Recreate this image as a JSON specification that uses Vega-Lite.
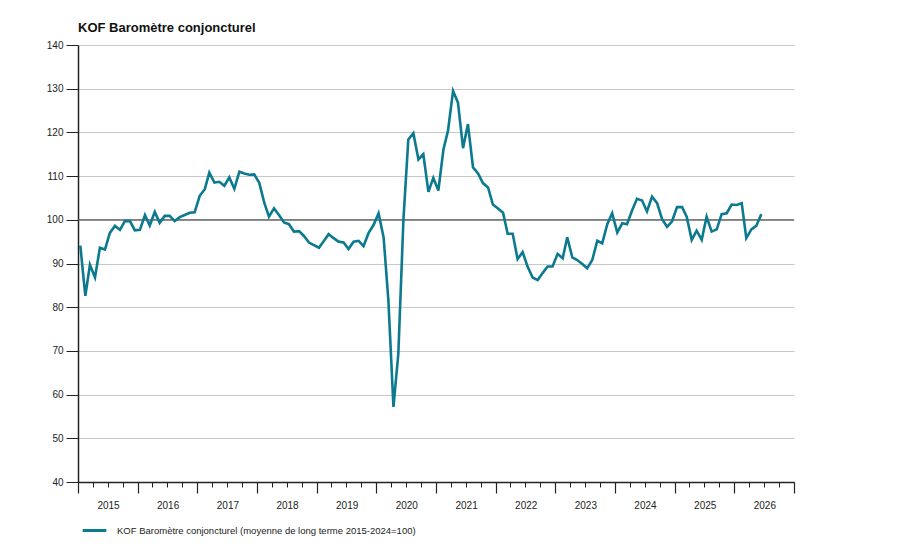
{
  "$schema": "https://vega.github.io/schema/vega-lite/v6.json",
  "width": 716,
  "height": 437,
  "autosize": "none",
  "padding": {"left": 78, "top": 45, "right": 106, "bottom": 65},
  "background": "white",
  "title": {"text": "KOF Baromètre conjoncturel", "anchor": "start", "frame": "group", "offset": 5, "font": "Liberation Sans", "fontSize": 13, "fontWeight": "bold", "color": "#111111"},
  "config": {"view": {"stroke": null}, "font": "Liberation Sans"},
  "data": {"values": [
    {"date": "2015-01-15", "value": 94.1}, {"date": "2015-02-15", "value": 82.6}, {"date": "2015-03-15", "value": 89.7}, {"date": "2015-04-15", "value": 86.8},
    {"date": "2015-05-15", "value": 93.6}, {"date": "2015-06-15", "value": 93.2}, {"date": "2015-07-15", "value": 97.0}, {"date": "2015-08-15", "value": 98.6},
    {"date": "2015-09-15", "value": 97.7}, {"date": "2015-10-15", "value": 99.7}, {"date": "2015-11-15", "value": 99.7}, {"date": "2015-12-15", "value": 97.6},
    {"date": "2016-01-15", "value": 97.7}, {"date": "2016-02-15", "value": 101.1}, {"date": "2016-03-15", "value": 98.7}, {"date": "2016-04-15", "value": 101.8},
    {"date": "2016-05-15", "value": 99.3}, {"date": "2016-06-15", "value": 100.9}, {"date": "2016-07-15", "value": 100.9}, {"date": "2016-08-15", "value": 99.7},
    {"date": "2016-09-15", "value": 100.6}, {"date": "2016-10-15", "value": 101.1}, {"date": "2016-11-15", "value": 101.6}, {"date": "2016-12-15", "value": 101.7},
    {"date": "2017-01-15", "value": 105.5}, {"date": "2017-02-15", "value": 107.0}, {"date": "2017-03-15", "value": 110.8}, {"date": "2017-04-15", "value": 108.5},
    {"date": "2017-05-15", "value": 108.7}, {"date": "2017-06-15", "value": 107.8}, {"date": "2017-07-15", "value": 109.7}, {"date": "2017-08-15", "value": 107.1},
    {"date": "2017-09-15", "value": 111.0}, {"date": "2017-10-15", "value": 110.6}, {"date": "2017-11-15", "value": 110.3}, {"date": "2017-12-15", "value": 110.4},
    {"date": "2018-01-15", "value": 108.4}, {"date": "2018-02-15", "value": 103.8}, {"date": "2018-03-15", "value": 100.7}, {"date": "2018-04-15", "value": 102.6},
    {"date": "2018-05-15", "value": 101.1}, {"date": "2018-06-15", "value": 99.4}, {"date": "2018-07-15", "value": 99.0}, {"date": "2018-08-15", "value": 97.3},
    {"date": "2018-09-15", "value": 97.4}, {"date": "2018-10-15", "value": 96.3}, {"date": "2018-11-15", "value": 94.8}, {"date": "2018-12-15", "value": 94.2},
    {"date": "2019-01-15", "value": 93.6}, {"date": "2019-02-15", "value": 95.2}, {"date": "2019-03-15", "value": 96.7}, {"date": "2019-04-15", "value": 95.8},
    {"date": "2019-05-15", "value": 95.0}, {"date": "2019-06-15", "value": 94.8}, {"date": "2019-07-15", "value": 93.3}, {"date": "2019-08-15", "value": 95.0},
    {"date": "2019-09-15", "value": 95.2}, {"date": "2019-10-15", "value": 94.0}, {"date": "2019-11-15", "value": 97.0}, {"date": "2019-12-15", "value": 98.8},
    {"date": "2020-01-15", "value": 101.5}, {"date": "2020-02-15", "value": 95.9}, {"date": "2020-03-15", "value": 81.6}, {"date": "2020-04-15", "value": 57.2},
    {"date": "2020-05-15", "value": 69.4}, {"date": "2020-06-15", "value": 100.0}, {"date": "2020-07-15", "value": 118.4}, {"date": "2020-08-15", "value": 119.8},
    {"date": "2020-09-15", "value": 113.8}, {"date": "2020-10-15", "value": 115.0}, {"date": "2020-11-15", "value": 106.4}, {"date": "2020-12-15", "value": 109.6},
    {"date": "2021-01-15", "value": 106.7}, {"date": "2021-02-15", "value": 116.1}, {"date": "2021-03-15", "value": 120.4}, {"date": "2021-04-15", "value": 129.5},
    {"date": "2021-05-15", "value": 126.8}, {"date": "2021-06-15", "value": 116.4}, {"date": "2021-07-15", "value": 121.9}, {"date": "2021-08-15", "value": 112.0},
    {"date": "2021-09-15", "value": 110.6}, {"date": "2021-10-15", "value": 108.4}, {"date": "2021-11-15", "value": 107.4}, {"date": "2021-12-15", "value": 103.5},
    {"date": "2022-01-15", "value": 102.6}, {"date": "2022-02-15", "value": 101.6}, {"date": "2022-03-15", "value": 96.8}, {"date": "2022-04-15", "value": 96.8},
    {"date": "2022-05-15", "value": 91.0}, {"date": "2022-06-15", "value": 92.6}, {"date": "2022-07-15", "value": 89.3}, {"date": "2022-08-15", "value": 86.8},
    {"date": "2022-09-15", "value": 86.2}, {"date": "2022-10-15", "value": 87.8}, {"date": "2022-11-15", "value": 89.3}, {"date": "2022-12-15", "value": 89.3},
    {"date": "2023-01-15", "value": 92.2}, {"date": "2023-02-15", "value": 91.2}, {"date": "2023-03-15", "value": 96.0}, {"date": "2023-04-15", "value": 91.4},
    {"date": "2023-05-15", "value": 90.8}, {"date": "2023-06-15", "value": 89.9}, {"date": "2023-07-15", "value": 88.9}, {"date": "2023-08-15", "value": 90.8},
    {"date": "2023-09-15", "value": 95.2}, {"date": "2023-10-15", "value": 94.6}, {"date": "2023-11-15", "value": 99.0}, {"date": "2023-12-15", "value": 101.5},
    {"date": "2024-01-15", "value": 97.1}, {"date": "2024-02-15", "value": 99.2}, {"date": "2024-03-15", "value": 99.0}, {"date": "2024-04-15", "value": 102.2},
    {"date": "2024-05-15", "value": 104.8}, {"date": "2024-06-15", "value": 104.4}, {"date": "2024-07-15", "value": 101.9}, {"date": "2024-08-15", "value": 105.3},
    {"date": "2024-09-15", "value": 103.8}, {"date": "2024-10-15", "value": 100.2}, {"date": "2024-11-15", "value": 98.4}, {"date": "2024-12-15", "value": 99.6},
    {"date": "2025-01-15", "value": 102.9}, {"date": "2025-02-15", "value": 102.9}, {"date": "2025-03-15", "value": 100.7}, {"date": "2025-04-15", "value": 95.4},
    {"date": "2025-05-15", "value": 97.5}, {"date": "2025-06-15", "value": 95.4}, {"date": "2025-07-15", "value": 100.7}, {"date": "2025-08-15", "value": 97.3},
    {"date": "2025-09-15", "value": 97.8}, {"date": "2025-10-15", "value": 101.3}, {"date": "2025-11-15", "value": 101.5}, {"date": "2025-12-15", "value": 103.5},
    {"date": "2026-01-15", "value": 103.4}, {"date": "2026-02-15", "value": 103.8}, {"date": "2026-03-15", "value": 95.8}, {"date": "2026-04-15", "value": 97.8},
    {"date": "2026-05-15", "value": 98.6}, {"date": "2026-06-15", "value": 101.3}
  ]},
  "layer": [
    {
      "mark": {"type": "line", "opacity": 0},
      "encoding": {
        "x": {"field": "date", "type": "temporal",
              "scale": {"type": "utc", "domain": ["2015-01-01", "2027-01-01"], "nice": false},
              "axis": {"orient": "bottom", "tickCount": {"interval": "month", "step": 3}, "labels": false, "domain": false, "grid": false, "title": null, "tickSize": 5, "tickColor": "#222222", "tickWidth": 1}},
        "y": {"field": "value", "type": "quantitative",
              "scale": {"domain": [40, 140], "nice": false, "zero": false},
              "axis": {"values": [40, 50, 60, 70, 80, 90, 100, 110, 120, 130, 140], "title": null, "grid": true, "gridColor": "#c8c8c8", "gridWidth": 1, "tickSize": 12, "tickColor": "#222222", "domainColor": "#222222", "domainWidth": 1.5, "labelPadding": 3, "labelFontSize": 10, "labelColor": "#222222", "labelFont": "Liberation Sans"}}
      }
    },
    {
      "data": {"values": [{}]},
      "mark": {"type": "rule", "color": "#555555", "strokeWidth": 1.3},
      "encoding": {"y": {"datum": 100, "type": "quantitative"}}
    },
    {
      "mark": {"type": "line", "strokeWidth": 2.6, "interpolate": "linear"},
      "encoding": {
        "x": {"field": "date", "type": "temporal",
              "axis": {"orient": "bottom", "tickCount": {"interval": "year", "step": 1}, "format": "%Y", "labelExpr": "datum.label == '2027' ? '' : datum.label", "labelOffset": 30, "labelAlign": "center", "labelPadding": 7, "labelFontSize": 10, "labelColor": "#222222", "labelFont": "Liberation Sans", "grid": false, "title": null, "tickSize": 11, "tickColor": "#222222", "tickWidth": 1.2, "domainColor": "#222222", "domainWidth": 1.5}},
        "y": {"field": "value", "type": "quantitative"},
        "color": {"datum": "KOF Baromètre conjoncturel (moyenne de long terme 2015-2024=100)", "type": "nominal",
                  "scale": {"range": ["#0b7a8e"]},
                  "legend": {"title": null, "orient": "none", "legendX": 3, "legendY": 472, "symbolType": "stroke", "symbolSize": 560, "symbolStrokeWidth": 3, "labelFontSize": 9.5, "labelColor": "#222222", "labelFont": "Liberation Sans", "labelOffset": 9, "padding": 0, "labelLimit": 600}}
      }
    }
  ],
  "resolve": {"axis": {"x": "independent"}}
}
